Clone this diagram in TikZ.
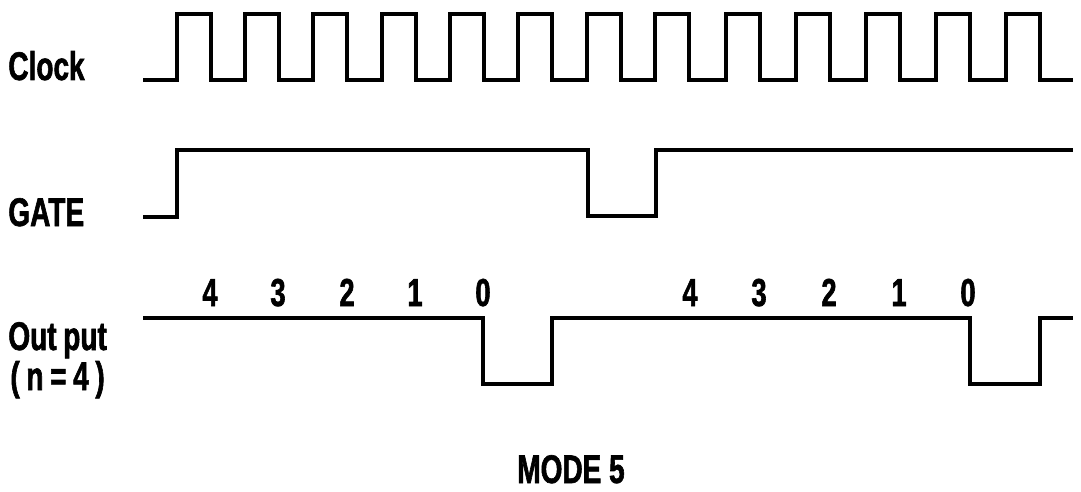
\documentclass[tikz,border=0pt]{standalone}
\usepackage{fontspec}
\setmainfont{Liberation Sans}[FakeStretch=0.7, BoldFeatures={FakeBold=1.5}]
\usetikzlibrary{positioning}

\begin{document}
\begin{tikzpicture}[
  x=0.5pt, y=-0.5pt,
  wave/.style={line width=1.6pt, line join=miter},
  lbl/.style={font=\bfseries\fontsize{20}{22}\selectfont, anchor=base west, inner sep=0pt},
  cnt/.style={font=\bfseries\fontsize{19.5}{22}\selectfont, anchor=base, inner sep=0pt},
  ]
\useasboundingbox (0,0) rectangle (1081,492);

  % signal names
  \node[lbl] (clk)  at (8,80)   {Clock};
  \node[lbl] (gate) at (8,226)  {GATE};
  \node[lbl] (out)  at (8,350)  {Out\,put};
  \node[lbl] (outn) at (10,390) {(\,n\,=\,4\,)};

  % clock
  \draw[wave] (143,80)
    \foreach \r in {177,245,313,382,450,518,587,655,726,796,866,936,1006}
      { -- (\r,80) -- (\r,14) -- (\r+34,14) -- (\r+34,80) }
    -- (1073,80);

  % gate
  \draw[wave] (143,217) -- (177,217) -- (177,150) -- (588,150)
    -- (588,216) -- (656,216) -- (656,150) -- (1073,150);

  % output
  \draw[wave] (143,318) -- (483,318) -- (483,384) -- (552,384)
    -- (552,318) -- (970,318) -- (970,384) -- (1040,384)
    -- (1040,318) -- (1073,318);

  % counts
  \foreach \x/\d [count=\i] in {210/4,278/3,347/2,415/1,483/0,
                                690/4,759/3,829/2,899/1,968/0}
    \node[cnt] (d\i) at (\x,306) {\d};

  \node[lbl, anchor=base] (mode) at (571,483) {MODE 5};

  \end{tikzpicture}
\end{document}
